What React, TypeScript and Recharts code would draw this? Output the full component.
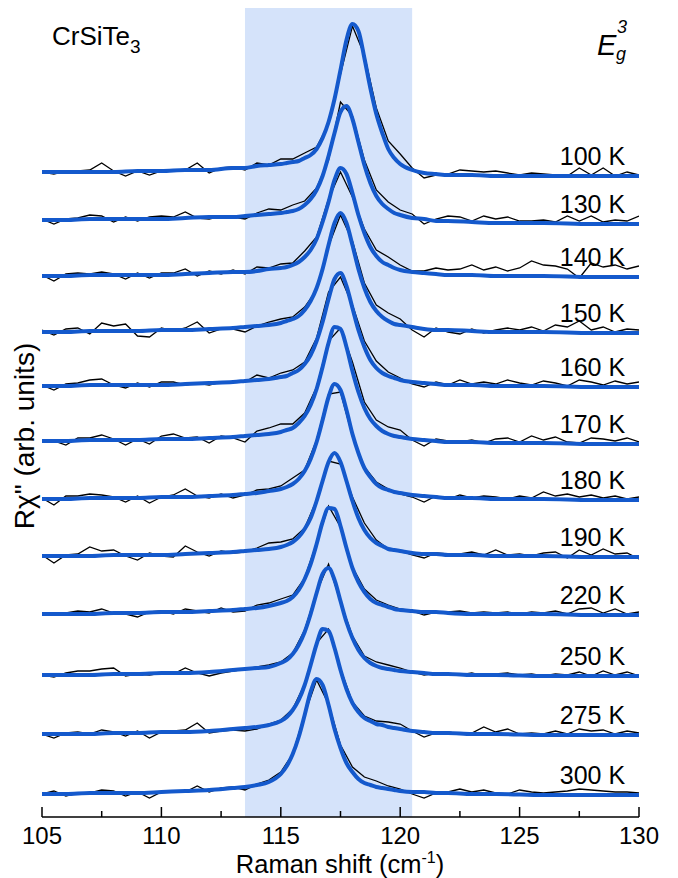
import React from 'react';
import { LineChart, Line, XAxis, YAxis, ReferenceArea, ReferenceDot } from 'recharts';

// Temperatures (labels) and waterfall offsets (arb. units)
const temps = ['100 K', '130 K', '140 K', '150 K', '160 K', '170 K', '180 K', '190 K', '220 K', '250 K', '275 K', '300 K'];
const offsets = [641, 593, 540, 484, 430, 373, 317, 260, 202, 141, 82, 22];

// Raman shift grid of the measured spectra (cm^-1)
const dataX = [105, 105.5, 106, 106.5, 107, 107.5, 108, 108.5, 109, 109.5, 110, 110.5, 111, 111.5, 112, 112.5, 113, 113.5, 114, 114.5, 115, 115.5, 116, 116.5, 117, 117.5, 118, 118.5, 119, 119.5, 120, 120.5, 121, 121.5, 122, 122.5, 123, 123.5, 124, 124.5, 125, 125.5, 126, 126.5, 127, 127.5, 128, 128.5, 129, 129.5, 130];

// Measured spectra (black)
const d100 = [4, 2, 5, 5, 6, 13, 5, 0, 5, 1, 5, 6, 6, 13, 3, 8, 9, 6, 13, 11, 17, 17, 23, 29, 52, 102, 150, 121, 68, 35, 22, 8, -2, 1, 2, 6, 5, 4, 5, 3, 1, 3, 2, 1, 0, 8, 1, 8, 0, 4, 1];
const d130 = [5, 0, 5, 6, 9, 8, 2, 7, 3, 7, 8, 7, 12, 6, 5, 8, 7, 5, 11, 15, 14, 19, 23, 36, 64, 122, 108, 64, 34, 22, 14, 10, 0, 5, 8, 7, 3, 8, 5, 7, 3, 3, 4, 2, 8, 3, 8, 2, 4, 3, 8];
const d140 = [2, -4, 3, 4, 3, 5, 3, -2, 4, -1, 4, 4, 8, 1, 6, 3, 7, 3, 10, 9, 13, 14, 26, 40, 78, 105, 80, 48, 27, 20, 12, 6, 6, 9, 7, 8, 12, 7, 10, 6, 9, 16, 12, 11, 8, -1, 14, 10, 12, 8, 11];
const d150 = [3, -2, 4, 5, -1, 10, 7, 9, -3, -4, 5, 2, 5, 11, 0, 4, 4, 1, 7, 11, 14, 16, 26, 43, 87, 118, 92, 50, 28, 20, 14, 3, -4, 5, 1, -1, 4, 0, 3, 5, 3, 6, 2, 8, 6, 12, 3, 6, 1, 4, 3];
const d160 = [2, -3, 3, 4, 7, 8, 2, -1, 4, 0, 5, 5, 2, 4, 2, 5, 5, 5, 12, 9, 14, 17, 25, 49, 95, 110, 82, 46, 26, 15, 9, 3, 0, 5, 2, 7, 3, 5, 3, 7, 4, 2, 6, 4, 1, 7, 5, 2, 6, 3, 5];
const d170 = [4, 3, -1, 6, 6, 9, 5, -1, 5, 0, 8, 10, 6, 7, 1, 8, 6, 2, 13, 16, 20, 20, 31, 57, 103, 116, 82, 42, 24, 17, 14, 4, -2, 5, 3, 2, 4, 1, 5, 6, 2, 8, 4, 7, 2, 1, 6, 5, 3, 6, 2];
const d180 = [2, -5, 4, 4, 6, 5, 3, -2, 4, -3, 3, 5, 11, 4, 2, 6, 2, 5, 10, 11, 14, 22, 30, 60, 106, 108, 64, 33, 18, 11, 6, 3, -2, 4, 1, 5, 2, 4, 3, 1, 4, 2, 8, 4, 6, 3, 5, 2, 4, 1, 3];
const d190 = [2, -6, 2, 3, 10, 6, 7, 1, -3, 4, 1, 0, 11, 5, 1, 6, 4, 5, 9, 14, 15, 18, 29, 57, 96, 93, 60, 34, 17, 8, 6, 2, -1, 4, 3, 3, 5, 2, 7, 2, 3, 1, 4, 5, -1, 7, 2, 8, 3, 4, -2];
const d220 = [2, 0, 2, 4, 3, 6, 2, 1, -2, 3, 4, 1, 6, 4, 2, 7, 3, 4, 10, 12, 16, 20, 37, 72, 109, 88, 48, 26, 15, 10, 6, 4, 0, 3, 3, 4, 2, 3, 2, 3, 1, 3, 2, 4, 1, 6, 7, 2, 6, 1, 3];
const d250 = [1, -1, 3, 5, 5, 7, 8, 0, 2, 1, 3, 2, 8, 3, 0, 3, 5, 7, 9, 11, 14, 23, 46, 84, 112, 74, 40, 20, 14, 11, 8, 4, 1, 3, 2, 1, 3, 0, 2, 3, 1, 2, 0, 2, 1, 4, 0, 5, 1, 4, 0];
const d275 = [1, -3, 2, 3, 1, 5, 3, -1, 4, -3, 3, 4, 5, 12, 2, 4, 5, 4, 6, 11, 15, 26, 51, 92, 106, 66, 33, 19, 14, 13, 11, 4, -2, 2, 3, 1, 2, 8, 3, 6, 1, 2, 1, 4, 1, 6, 4, 5, 1, 4, 2];
const d300 = [1, 4, -1, 2, 2, 5, 4, -1, 3, -3, 3, 4, 3, 9, 3, 7, 8, 5, 11, 15, 23, 41, 81, 115, 91, 50, 28, 18, 14, 9, 6, 1, -3, 2, 3, 6, 3, 5, 2, 1, 5, 3, 2, 3, 4, 6, 5, 4, 3, 3, 2];

// Grid of the fitted curves (cm^-1)
const fitX = [105, 106, 107, 108, 109, 110, 111, 112, 113, 113.5, 114, 114.5, 115, 115.25, 115.5, 115.75, 116, 116.25, 116.5, 116.75, 117, 117.25, 117.5, 117.75, 118, 118.25, 118.5, 118.75, 119, 119.25, 119.5, 119.75, 120, 120.5, 121, 121.5, 122, 123, 124, 126, 128, 130];

// Fitted curves (blue)
const f100 = [4, 4, 4, 4, 5, 5, 6, 6, 8, 8, 10, 11, 12, 13, 14, 15, 18, 21, 27, 38, 54, 77, 106, 136, 152, 145, 118, 88, 62, 43, 27, 18, 12, 6, 3, 2, 1, 1, 0, 0, 0, 0];
const f130 = [4, 4, 5, 5, 5, 5, 6, 7, 7, 8, 9, 10, 11, 12, 13, 15, 19, 25, 34, 48, 68, 91, 112, 118, 105, 82, 59, 41, 28, 20, 15, 11, 9, 6, 5, 3, 3, 2, 1, 1, 0, 0];
const f140 = [1, 1, 2, 2, 2, 2, 3, 4, 5, 5, 6, 8, 9, 10, 12, 15, 20, 27, 38, 55, 75, 97, 109, 103, 84, 62, 44, 30, 21, 15, 12, 9, 7, 5, 4, 3, 2, 2, 1, 1, 0, 0];
const f150 = [1, 1, 2, 2, 2, 3, 3, 4, 5, 6, 7, 8, 10, 12, 14, 17, 23, 32, 45, 64, 88, 110, 120, 110, 88, 64, 45, 31, 22, 16, 12, 9, 8, 6, 4, 3, 3, 2, 1, 1, 0, 0];
const f160 = [1, 1, 2, 2, 2, 2, 3, 4, 5, 6, 7, 8, 10, 11, 14, 17, 23, 32, 46, 65, 88, 108, 114, 101, 79, 57, 40, 27, 19, 14, 11, 9, 7, 5, 4, 3, 2, 2, 1, 1, 0, 0];
const f170 = [3, 3, 4, 4, 4, 5, 5, 6, 7, 8, 9, 10, 12, 14, 16, 21, 28, 39, 55, 77, 101, 117, 115, 97, 73, 52, 36, 25, 18, 13, 10, 8, 7, 5, 4, 3, 2, 2, 1, 1, 0, 0];
const f180 = [1, 1, 2, 2, 2, 3, 3, 4, 5, 6, 7, 9, 11, 13, 16, 21, 29, 41, 58, 80, 103, 116, 110, 90, 66, 47, 32, 23, 16, 12, 10, 8, 7, 5, 4, 3, 2, 2, 1, 1, 0, 0];
const f190 = [1, 1, 1, 2, 2, 2, 3, 4, 5, 6, 7, 8, 10, 12, 15, 20, 28, 39, 56, 76, 95, 104, 95, 76, 56, 39, 27, 19, 14, 11, 8, 7, 6, 4, 3, 3, 2, 2, 1, 1, 0, 0];
const f220 = [1, 1, 1, 2, 2, 3, 3, 4, 5, 6, 7, 9, 12, 14, 18, 25, 36, 51, 71, 93, 107, 106, 89, 67, 47, 33, 23, 16, 12, 10, 8, 6, 5, 4, 3, 3, 2, 1, 1, 1, 0, 0];
const f250 = [1, 1, 1, 2, 2, 3, 3, 4, 6, 7, 8, 9, 13, 16, 22, 31, 44, 62, 83, 102, 108, 96, 75, 54, 38, 26, 18, 13, 10, 8, 7, 6, 5, 4, 3, 2, 2, 1, 1, 0, 0, 0];
const f275 = [1, 1, 1, 2, 2, 3, 3, 4, 6, 7, 8, 10, 14, 18, 25, 35, 50, 70, 91, 106, 104, 87, 65, 46, 32, 23, 17, 14, 11, 10, 8, 7, 6, 4, 3, 2, 2, 1, 1, 0, 0, 0];
const f300 = [1, 1, 2, 2, 2, 3, 4, 5, 7, 8, 10, 13, 21, 29, 41, 58, 80, 103, 116, 110, 90, 66, 47, 32, 23, 16, 12, 10, 8, 7, 6, 5, 4, 3, 3, 2, 2, 1, 1, 0, 0, 0];

const measured = [d100, d130, d140, d150, d160, d170, d180, d190, d220, d250, d275, d300];
const fits = [f100, f130, f140, f150, f160, f170, f180, f190, f220, f250, f275, f300];

const xTicks = [105, 107.5, 110, 112.5, 115, 117.5, 120, 122.5, 125, 127.5, 130];
const bandRange = [113.5, 120.5];
const labelX = 129.42;
const labelLift = 11;

const FONT = 'Liberation Sans, Arial, Helvetica, sans-serif';
const BLUE = '#1459cc';

const measuredSeries = measured.map((arr, k) => dataX.map((x, i) => ({ x, y: offsets[k] + arr[i] })));
const fitSeries = fits.map((arr, k) => fitX.map((x, i) => ({ x, y: offsets[k] + arr[i] })));

const XTick = (props: any) => {
  const { x, y, payload } = props;
  const v = payload.value;
  const major = v % 5 === 0;
  return (
    <g>
      <line x1={x} x2={x} y1={y} y2={y - (major ? 10 : 6)} stroke="#000" strokeWidth={1.5} />
      {major && (
        <text x={x} y={y + 27} textAnchor="middle" fontSize={24} fontFamily={FONT} fill="#000">
          {v}
        </text>
      )}
    </g>
  );
};

export default function App() {
  return (
    <div style={{ position: 'absolute', left: 0, top: 0, width: 678, height: 878, background: '#fff' }}>
      <LineChart width={678} height={878} margin={{ top: 8, right: 39, bottom: 0, left: 42 }}>
        <XAxis
          dataKey="x"
          type="number"
          domain={[105, 130]}
          ticks={xTicks}
          interval={0}
          allowDataOverflow
          height={61}
          tickSize={0}
          tickMargin={0}
          tickLine={false}
          tick={<XTick />}
          axisLine={{ stroke: '#000', strokeWidth: 1.5 }}
        />
        <XAxis
          xAxisId="top"
          orientation="top"
          dataKey="x"
          type="number"
          domain={[105, 130]}
          height={0}
          tick={false}
          tickLine={false}
          axisLine={{ stroke: '#000', strokeWidth: 1.5 }}
        />
        <YAxis
          type="number"
          domain={[0, 809]}
          allowDataOverflow
          width={0}
          tick={false}
          tickLine={false}
          axisLine={{ stroke: '#000', strokeWidth: 1.5 }}
        />
        <YAxis
          yAxisId="r"
          orientation="right"
          type="number"
          domain={[0, 809]}
          width={0}
          tick={false}
          tickLine={false}
          axisLine={{ stroke: '#000', strokeWidth: 1.5 }}
        />
        <ReferenceArea x1={bandRange[0]} x2={bandRange[1]} y1={0} y2={809} fill="#d5e3fa" fillOpacity={1} stroke="none" />
        {measuredSeries.map((s, k) => (
          <Line
            key={'m' + k}
            data={s}
            dataKey="y"
            type="linear"
            stroke="#000"
            strokeWidth={1.3}
            dot={false}
            isAnimationActive={false}
          />
        ))}
        {fitSeries.map((s, k) => (
          <Line
            key={'f' + k}
            data={s}
            dataKey="y"
            type="monotone"
            stroke={BLUE}
            strokeWidth={4}
            dot={false}
            isAnimationActive={false}
          />
        ))}
        {temps.map((t, k) => (
          <ReferenceDot
            key={'l' + k}
            x={labelX}
            y={offsets[k] + labelLift}
            r={0}
            ifOverflow="visible"
            shape={(p: any) => (
              <text x={p.cx} y={p.cy} textAnchor="end" fontSize={25} fontFamily={FONT} fill="#000">
                {t}
              </text>
            )}
          />
        ))}
      </LineChart>
      <svg width={678} height={878} style={{ position: 'absolute', left: 0, top: 0, pointerEvents: 'none' }}>
        <text x={52} y={45} fontSize={26} fontFamily={FONT} fill="#000">
          CrSiTe<tspan fontSize={19} dy={8}>3</tspan>
        </text>
        <text x={597} y={55} fontSize={29} fontStyle="italic" fontFamily={FONT} fill="#000">E</text>
        <text x={617} y={33} fontSize={18} fontStyle="italic" fontFamily={FONT} fill="#000">3</text>
        <text x={616} y={60} fontSize={18} fontStyle="italic" fontFamily={FONT} fill="#000">g</text>
        <text x={340} y={872.5} textAnchor="middle" fontSize={25.5} fontFamily={FONT} fill="#000">
          Raman shift (cm<tspan fontSize={16} dy={-10}>-1</tspan><tspan dy={10}>)</tspan>
        </text>
        <text transform="translate(34,436) rotate(-90)" textAnchor="middle" fontSize={28} fontFamily={FONT} fill="#000">
          Rχ" (arb. units)
        </text>
      </svg>
    </div>
  );
}
